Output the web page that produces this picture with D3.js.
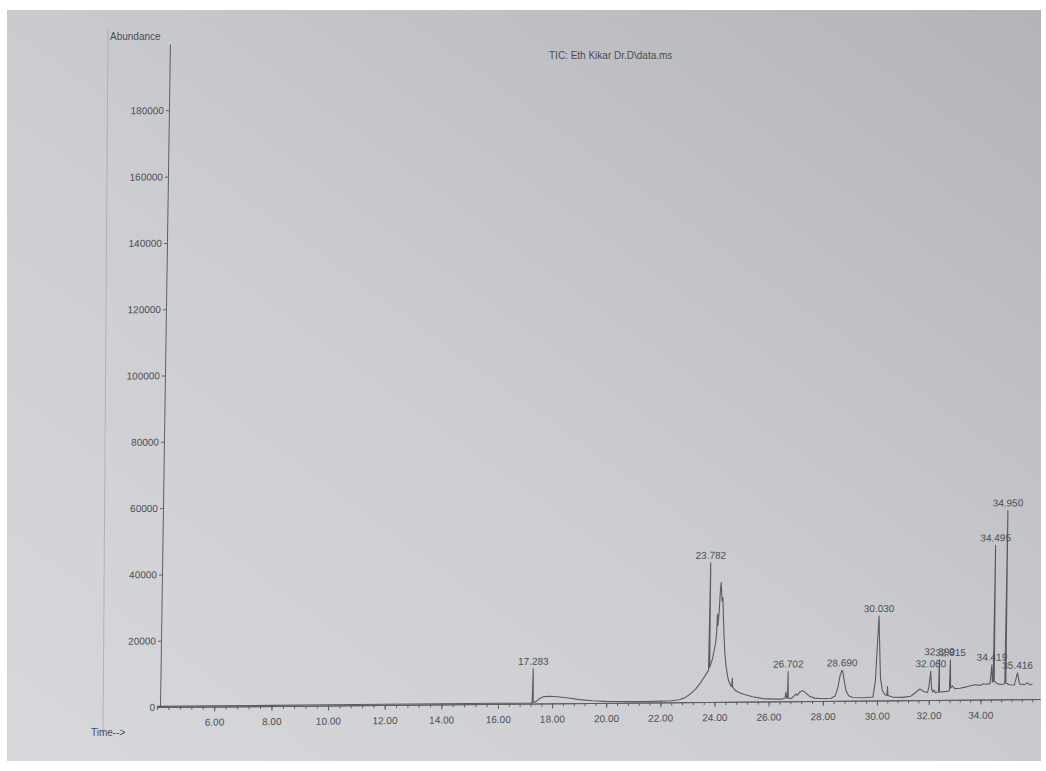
<!DOCTYPE html>
<html>
<head>
<meta charset="utf-8">
<script src="https://cdn.jsdelivr.net/npm/d3@7"></script>
<style>
  body { margin: 0; background: #fff; }
  text { font-family: "Liberation Sans", Arial, sans-serif; }
</style>
</head>
<body>
<svg id="chart"></svg>
<script>
// retention time (min) and abundance
var times = [
  4.0, 6.0, 8.0, 10.0, 12.0, 14.0, 16.0, 17.2, 17.26, 17.283, 17.3, 17.4, 17.55, 17.7, 17.9,
  18.2, 18.6, 19.0, 19.5, 20.0, 20.5, 21.0, 21.5, 22.0, 22.4, 22.7, 22.9, 23.1, 23.3, 23.5,
  23.7, 23.76, 23.782, 23.8, 23.9, 24.0, 24.04, 24.06, 24.08, 24.12, 24.15, 24.18, 24.22, 24.25,
  24.3, 24.35, 24.4, 24.45, 24.5, 24.58, 24.62, 24.64, 24.66, 24.75, 24.9, 25.1, 25.4, 25.8,
  26.2, 26.5, 26.6, 26.63, 26.66, 26.69, 26.702, 26.72, 26.8, 26.9, 27.0, 27.05, 27.15, 27.25,
  27.35, 27.5, 27.7, 28.0, 28.3, 28.45, 28.55, 28.62, 28.66, 28.69, 28.72, 28.78, 28.85, 28.95,
  29.1, 29.5, 29.85, 29.93, 29.98, 30.03, 30.07, 30.12, 30.2, 30.3, 30.38, 30.4, 30.42, 30.6,
  31.0, 31.3, 31.5, 31.65, 31.8, 31.95, 32.0, 32.06, 32.1, 32.15, 32.2, 32.25, 32.37, 32.39,
  32.41, 32.6, 32.79, 32.815, 32.84, 32.9, 33.0, 33.2, 33.4, 33.6, 33.8, 34.0, 34.1, 34.2,
  34.36, 34.419, 34.45, 34.48, 34.495, 34.52, 34.65, 34.8, 34.93, 34.95, 34.97, 35.1, 35.3,
  35.416, 35.5, 35.7, 35.8, 35.9, 36.0
];
var abundance = [
  200, 200, 200, 200, 200, 200, 200, 200, 300, 10500, 400, 600, 1600, 2100, 2200,
  2000, 1600, 1100, 700, 500, 400, 350, 350, 400, 500, 800, 1400, 2500, 4000, 6200,
  8800, 9600, 42000, 10500, 13000, 17500, 21000, 26500, 23000, 27000, 33000, 36000, 30500, 31500,
  22000, 15000, 11000, 8500, 6500, 5000, 4600, 7200, 4500, 3500, 2800, 2200, 1500, 900,
  700, 700, 1000, 2800, 900, 1000, 9000, 1000, 800, 1300, 2200, 1800, 2800, 3200,
  2600, 1500, 900, 700, 800, 1500, 4000, 7500, 8500, 9200, 8800, 6000, 3000, 1500,
  1000, 900, 1100, 6000, 16000, 25500, 17000, 7000, 3000, 1800, 1500, 4200, 1500, 1000,
  900, 1200, 2400, 3400, 2600, 2300, 4000, 8700, 3500, 2400, 3000, 2200, 2400, 12300,
  2400, 2500, 2700, 12000, 3500, 4200, 3400, 3500, 3800, 4200, 4500, 4300, 4800, 4600,
  4800, 10500, 5200, 5500, 46500, 5500, 4700, 4500, 4700, 57000, 5000, 4400, 4300,
  8000, 4600, 4400, 5000, 4300, 4500
];

// labelled peaks
var peakTimes = [17.283, 23.782, 26.702, 28.690, 30.030, 32.060, 32.390, 32.815, 34.419, 34.495, 34.950, 35.416];

var xTickValues = [6, 8, 10, 12, 14, 16, 18, 20, 22, 24, 26, 28, 30, 32, 34];
var xTickLabels = ['6.00', '8.00', '10.00', '12.00', '14.00', '16.00', '18.00', '20.00',
                   '22.00', '24.00', '26.00', '28.00', '30.00', '32.00', '34.00'];
var yTickValues = [0, 20000, 40000, 60000, 80000, 100000, 120000, 140000, 160000, 180000];

var title = 'TIC: Eth Kikar Dr.D\\data.ms';

var width = 1046, height = 771;
var ink = '#4c4d51';

var svg = d3.select('#chart')
  .attr('width', width)
  .attr('height', height);

// photographed paper
var defs = svg.append('defs');
var grad = defs.append('linearGradient')
  .attr('id', 'paper')
  .attr('x1', 0).attr('y1', 1).attr('x2', 1).attr('y2', 0);
grad.append('stop').attr('offset', 0).attr('stop-color', '#d6d8dc');
grad.append('stop').attr('offset', 0.45).attr('stop-color', '#cbcdd1');
grad.append('stop').attr('offset', 1).attr('stop-color', '#b2b4b8');

svg.append('rect')
  .attr('x', 7).attr('y', 10)
  .attr('width', 1034).attr('height', 751)
  .attr('fill', 'url(#paper)');

// faint printout frame line
svg.append('line')
  .attr('x1', 108).attr('y1', 30)
  .attr('x2', 103).attr('y2', 735)
  .attr('stroke', '#8f9297')
  .attr('stroke-width', 0.8)
  .attr('opacity', 0.6);

// chart group, slightly skewed like the photo
var g = svg.append('g')
  .attr('transform', 'matrix(1,-0.009,-0.015,1,10.6,1.44)');

var x = d3.scaleLinear()
  .domain([4, 8, 16, 30, 36.3])
  .range([157, 271.5, 498, 877, 1040]);
var y = d3.scaleLinear()
  .domain([0, 200000])
  .range([707, 44]);

var xAxis = d3.axisBottom(x)
  .tickValues(xTickValues)
  .tickSize(5)
  .tickPadding(7)
  .tickSizeOuter(0)
  .tickFormat((d, i) => xTickLabels[i]);
var xMinor = d3.axisBottom(x)
  .tickValues(d3.range(0, 81).map(i => 4 + i * 0.4))
  .tickSize(3)
  .tickSizeOuter(0)
  .tickFormat('');
var yAxis = d3.axisLeft(y)
  .tickValues(yTickValues)
  .tickSize(3)
  .tickPadding(2)
  .tickSizeOuter(0)
  .tickFormat(d3.format('d'));

g.append('g')
  .attr('transform', 'translate(0,' + y(0) + ')')
  .call(xMinor);
g.append('g')
  .attr('transform', 'translate(0,' + y(0) + ')')
  .call(xAxis);
g.append('g')
  .attr('transform', 'translate(' + 160 + ',0)')
  .call(yAxis);

g.selectAll('.domain, .tick line')
  .attr('stroke', '#5e5f63')
  .attr('stroke-width', 1);
g.selectAll('.tick text')
  .attr('fill', ink)
  .style('font-size', '10px');

// trace
var line = d3.line()
  .x(d => x(d[0]))
  .y(d => y(d[1]));

g.append('path')
  .datum(d3.zip(times, abundance))
  .attr('fill', 'none')
  .attr('stroke', '#5a5b5f')
  .attr('stroke-width', 1.1)
  .attr('stroke-linejoin', 'round')
  .attr('d', line);

// peak labels
g.selectAll('.peak')
  .data(peakTimes)
  .enter()
  .append('text')
    .attr('class', 'peak')
    .attr('x', d => x(d))
    .attr('y', d => y(abundance[times.indexOf(d)]) - 4)
    .attr('text-anchor', 'middle')
    .attr('fill', ink)
    .style('font-size', '10px')
    .text(d => d3.format('.3f')(d));

// header texts
svg.append('text')
  .attr('x', 110)
  .attr('y', 40)
  .attr('fill', ink)
  .style('font-size', '10px')
  .text('Abundance');
svg.append('text')
  .attr('x', 549)
  .attr('y', 59)
  .attr('fill', ink)
  .style('font-size', '10px')
  .text(title);
svg.append('text')
  .attr('x', 91)
  .attr('y', 736)
  .attr('fill', ink)
  .style('font-size', '10px')
  .text('Time-->');
</script>
</body>
</html>
